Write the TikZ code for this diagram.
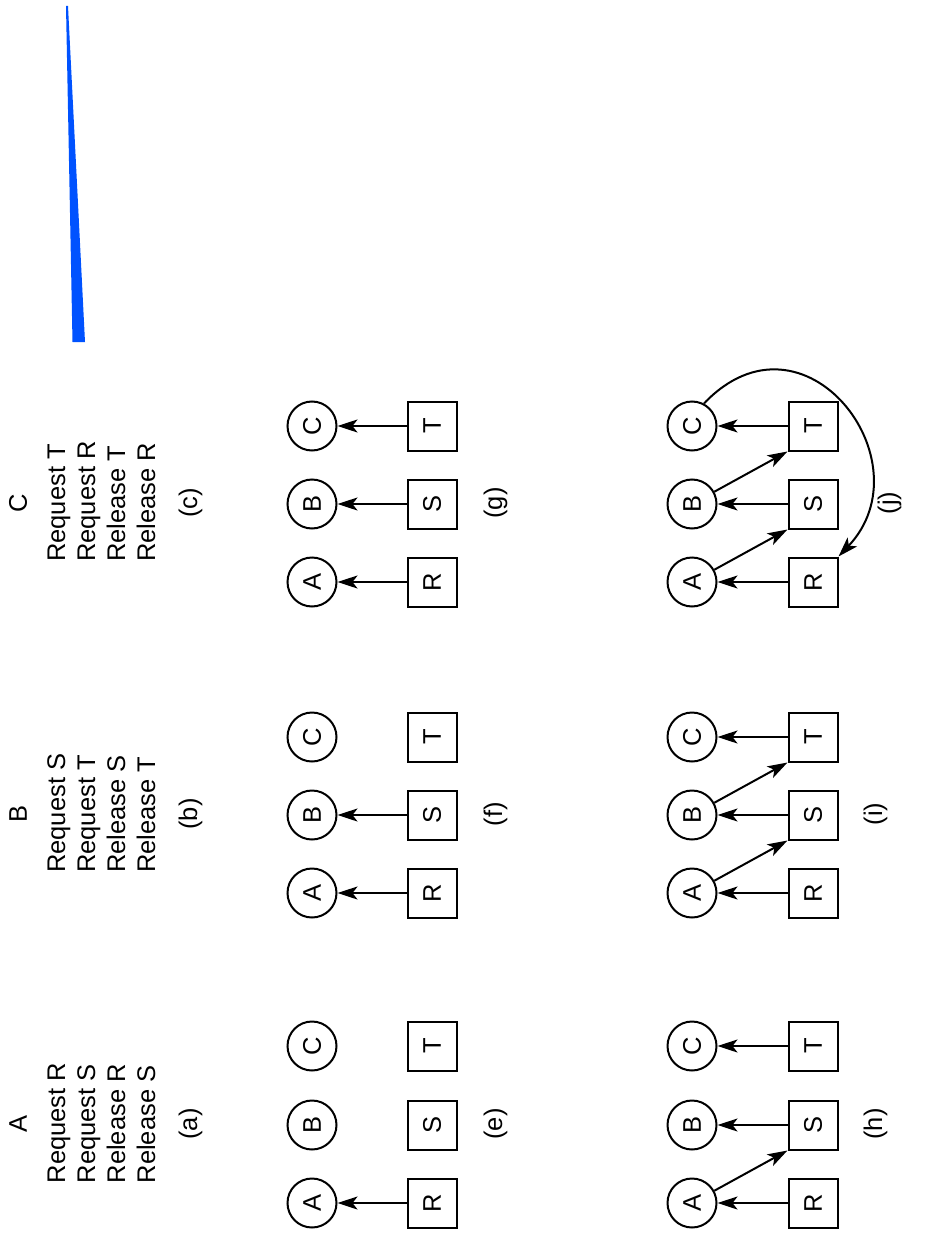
\documentclass[tikz,border=0pt]{standalone}
\usepackage{graphicx}
\usepackage{fontspec}
\setmainfont{Liberation Sans}
\usetikzlibrary{arrows.meta}
\definecolor{wedgeblue}{RGB}{0,82,255}
\begin{document}
\begin{tikzpicture}[x=1pt,y=-1pt,
  txt/.style={rotate=90,inner sep=0pt,font=\fontsize{25.5}{30}\selectfont},
  proc/.style={circle,draw,line width=2pt,minimum size=49pt,inner sep=0pt,font=\fontsize{25.5}{30}\selectfont},
  res/.style={rectangle,draw,line width=2pt,minimum size=49pt,inner sep=0pt,font=\fontsize{25.5}{30}\selectfont},
  arr/.style={line width=2pt,-{Stealth[length=20pt,width=13pt,inset=5pt]}}]
\useasboundingbox (0,0) rectangle (927,1241);

% thin blue wedge at the top
\fill[wedgeblue] (66,6) -- (68,6) -- (85,342) -- (72.5,342) -- cycle;

% ---- process listings (a) (b) (c)
\node[txt,anchor=base] (ha) at (27,1124) {A};
\node[txt,anchor=base west] (a1) at (65,1183.5) {Request R};
\node[txt,anchor=base west] (a2) at (95,1183.5) {Request S};
\node[txt,anchor=base west] (a3) at (125,1183.5) {Release R};
\node[txt,anchor=base west] (a4) at (155,1183.5) {Release S};
\node[txt,anchor=base] (la) at (197,1124) {(a)};

\node[txt,anchor=base] (hb) at (27,814) {B};
\node[txt,anchor=base west] (b1) at (65,873) {Request S};
\node[txt,anchor=base west] (b2) at (95,873) {Request T};
\node[txt,anchor=base west] (b3) at (125,873) {Release S};
\node[txt,anchor=base west] (b4) at (155,873) {Release T};
\node[txt,anchor=base] (lb) at (197,814) {(b)};

\node[txt,anchor=base] (hc) at (27,503) {C};
\node[txt,anchor=base west] (c1) at (65,562) {Request T};
\node[txt,anchor=base west] (c2) at (95,562) {Request R};
\node[txt,anchor=base west] (c3) at (125,562) {Release T};
\node[txt,anchor=base west] (c4) at (155,562) {Release R};
\node[txt,anchor=base] (lc) at (197,503) {(c)};

% ---- resource graphs, first row (e) (f) (g)
% (e)
\node[proc] (Ae) at (312,1203) {\rotatebox{90}{A}};
\node[proc] (Be) at (312,1125) {\rotatebox{90}{B}};
\node[proc] (Ce) at (312,1046) {\rotatebox{90}{C}};
\node[res] (Re) at (432,1203) {\rotatebox{90}{R}};
\node[res] (Se) at (432,1125) {\rotatebox{90}{S}};
\node[res] (Te) at (432,1046) {\rotatebox{90}{T}};
\node[txt,anchor=base] (le) at (502,1124) {(e)};
\draw[arr] (Re) -- (Ae);

% (f)
\node[proc] (Af) at (312,893) {\rotatebox{90}{A}};
\node[proc] (Bf) at (312,815) {\rotatebox{90}{B}};
\node[proc] (Cf) at (312,737) {\rotatebox{90}{C}};
\node[res] (Rf) at (432,893) {\rotatebox{90}{R}};
\node[res] (Sf) at (432,815) {\rotatebox{90}{S}};
\node[res] (Tf) at (432,737) {\rotatebox{90}{T}};
\node[txt,anchor=base] (lf) at (502,814) {(f)};
\draw[arr] (Rf) -- (Af);
\draw[arr] (Sf) -- (Bf);

% (g)
\node[proc] (Ag) at (312,582) {\rotatebox{90}{A}};
\node[proc] (Bg) at (312,504) {\rotatebox{90}{B}};
\node[proc] (Cg) at (312,426) {\rotatebox{90}{C}};
\node[res] (Rg) at (432,582) {\rotatebox{90}{R}};
\node[res] (Sg) at (432,504) {\rotatebox{90}{S}};
\node[res] (Tg) at (432,426) {\rotatebox{90}{T}};
\node[txt,anchor=base] (lg) at (502,503) {(g)};
\draw[arr] (Rg) -- (Ag);
\draw[arr] (Sg) -- (Bg);
\draw[arr] (Tg) -- (Cg);

% ---- resource graphs, second row (h) (i) (j)
% (h)
\node[proc] (Ah) at (692,1203) {\rotatebox{90}{A}};
\node[proc] (Bh) at (692,1125) {\rotatebox{90}{B}};
\node[proc] (Ch) at (692,1046) {\rotatebox{90}{C}};
\node[res] (Rh) at (813,1203) {\rotatebox{90}{R}};
\node[res] (Sh) at (813,1125) {\rotatebox{90}{S}};
\node[res] (Th) at (813,1046) {\rotatebox{90}{T}};
\node[txt,anchor=base] (lh) at (882,1124) {(h)};
\draw[arr] (Rh) -- (Ah);
\draw[arr] (Ah) -- (Sh.south west);
\draw[arr] (Sh) -- (Bh);
\draw[arr] (Th) -- (Ch);

% (i)
\node[proc] (Ai) at (692,893) {\rotatebox{90}{A}};
\node[proc] (Bi) at (692,815) {\rotatebox{90}{B}};
\node[proc] (Ci) at (692,737) {\rotatebox{90}{C}};
\node[res] (Ri) at (813,893) {\rotatebox{90}{R}};
\node[res] (Si) at (813,815) {\rotatebox{90}{S}};
\node[res] (Ti) at (813,737) {\rotatebox{90}{T}};
\node[txt,anchor=base] (li) at (882,814) {(i)};
\draw[arr] (Ri) -- (Ai);
\draw[arr] (Ai) -- (Si.south west);
\draw[arr] (Si) -- (Bi);
\draw[arr] (Bi) -- (Ti.south west);
\draw[arr] (Ti) -- (Ci);

% (j)
\node[proc] (Aj) at (692,582) {\rotatebox{90}{A}};
\node[proc] (Bj) at (692,504) {\rotatebox{90}{B}};
\node[proc] (Cj) at (692,426) {\rotatebox{90}{C}};
\node[res] (Rj) at (813,582) {\rotatebox{90}{R}};
\node[res] (Sj) at (813,504) {\rotatebox{90}{S}};
\node[res] (Tj) at (813,426) {\rotatebox{90}{T}};
\node[txt,anchor=base] (lj) at (896,503) {(j)};
\draw[arr] (Rj) -- (Aj);
\draw[arr] (Aj) -- (Sj.south west);
\draw[arr] (Sj) -- (Bj);
\draw[arr] (Bj) -- (Tj.south west);
\draw[arr] (Tj) -- (Cj);
\draw[arr] (Cj.62) .. controls +(100,-105) and +(90,-95) .. (Rj.north east);
\end{tikzpicture}
\end{document}
